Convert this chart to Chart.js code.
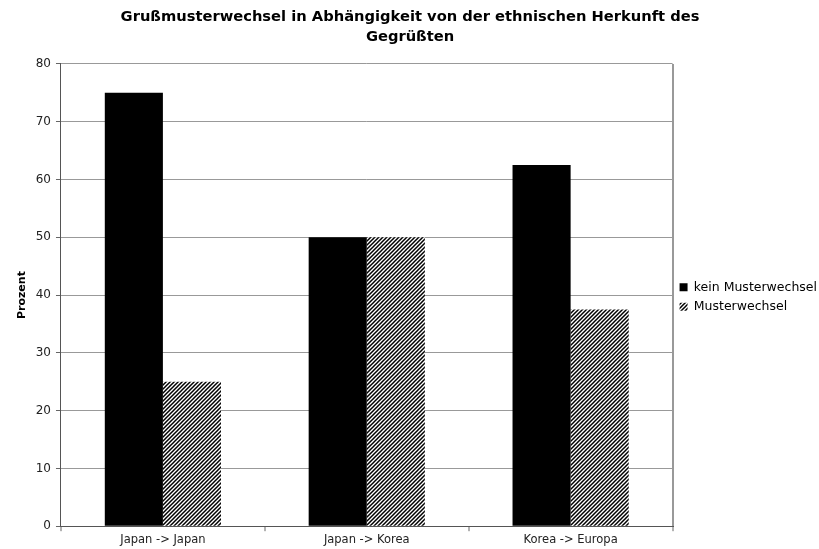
<!DOCTYPE html>
<html>
<head>
<meta charset="utf-8">
<script src="https://cdn.jsdelivr.net/npm/chart.js@4.4.0/dist/chart.umd.min.js"></script>
<style>
    body {
        margin: 0;
        background-color: #ffffff;
    }
    #wrap {
        width: 819px;
        height: 549px;
    }
</style>
</head>
<body>
<div id="wrap">
    <canvas id="myChart" width="819" height="549"></canvas>
</div>
<script>
    // data
    var categories = ['Japan -> Japan', 'Japan -> Korea', 'Korea -> Europa'];
    var keinMusterwechsel = [75, 50, 62.5];
    var musterwechsel = [25, 50, 37.5];
    var titleLines = ['Grußmusterwechsel in Abhängigkeit von der ethnischen Herkunft des', 'Gegrüßten'];
    var yTicks = [0, 10, 20, 30, 40, 50, 60, 70, 80];

    // diagonal hatch fill for the second series
    function makeHatch() {
        var c = document.createElement('canvas');
        c.width = 4;
        c.height = 4;
        var g = c.getContext('2d');
        g.fillStyle = '#ffffff';
        g.fillRect(0, 0, 4, 4);
        g.strokeStyle = '#000000';
        g.lineWidth = 1.5;
        g.beginPath();
        g.moveTo(-1, 5); g.lineTo(5, -1);
        g.moveTo(-1, 1); g.lineTo(1, -1);
        g.moveTo(3, 5); g.lineTo(5, 3);
        g.stroke();
        return g.createPattern(c, 'repeat');
    }

    var hatch = makeHatch();
    var fontFamily = "'DejaVu Sans', Verdana, sans-serif";

    var paintingCanvas = document.getElementById('myChart').getContext('2d');
    var chart = new Chart(paintingCanvas, {
        type: 'bar',
        data: {
            labels: categories,
            datasets: [
                {
                    label: 'kein Musterwechsel',
                    backgroundColor: '#000000',
                    borderWidth: 0,
                    data: keinMusterwechsel
                },
                {
                    label: 'Musterwechsel',
                    backgroundColor: hatch,
                    borderWidth: 0,
                    data: musterwechsel
                }
            ]
        },
        options: {
            responsive: false,
            animation: false,
            devicePixelRatio: 1,
            layout: {
                padding: { left: -7, right: -8, top: 7, bottom: 0 }
            },
            datasets: {
                bar: {
                    barPercentage: 1,
                    categoryPercentage: 0.57
                }
            },
            plugins: {
                title: {
                    display: true,
                    text: titleLines,
                    color: '#000000',
                    font: { family: fontFamily, size: 14.7, weight: 'bold', lineHeight: 1.36 },
                    padding: { top: 0, bottom: 17 }
                },
                legend: {
                    position: 'right',
                    // empty title only pushes the entries down a little
                    title: {
                        display: true,
                        text: '',
                        font: { family: fontFamily, size: 11 },
                        padding: { top: 0, bottom: 25 }
                    },
                    labels: {
                        color: '#000000',
                        boxWidth: 8,
                        boxHeight: 8,
                        padding: 7,
                        font: { family: fontFamily, size: 12.5 }
                    }
                },
                tooltip: { enabled: false }
            },
            scales: {
                x: {
                    grid: {
                        drawOnChartArea: true,
                        // tick lines stay hidden, the closing line on the right is the frame edge
                        color: function (ctx) {
                            return ctx.type === 'tick' ? 'rgba(0,0,0,0)' : '#999999';
                        },
                        lineWidth: 2,
                        drawTicks: true,
                        tickLength: 5,
                        tickColor: '#666666',
                        tickWidth: 1
                    },
                    border: { color: '#555555', width: 1 },
                    ticks: {
                        color: '#222222',
                        padding: 2,
                        font: { family: fontFamily, size: 11.5 }
                    }
                },
                y: {
                    min: 0,
                    max: 80,
                    afterBuildTicks: function (scale) {
                        scale.ticks = yTicks.map(function (v) { return { value: v }; });
                    },
                    grid: {
                        color: '#999999',
                        tickLength: 5,
                        tickColor: '#666666'
                    },
                    border: { color: '#555555', width: 1 },
                    ticks: {
                        color: '#222222',
                        padding: 5,
                        font: { family: fontFamily, size: 12 }
                    },
                    title: {
                        display: true,
                        text: 'Prozent',
                        color: '#000000',
                        padding: { top: 23, bottom: 1.5 },
                        font: { family: fontFamily, size: 11, weight: 'bold' }
                    }
                }
            }
        }
    });
</script>
</body>
</html>
